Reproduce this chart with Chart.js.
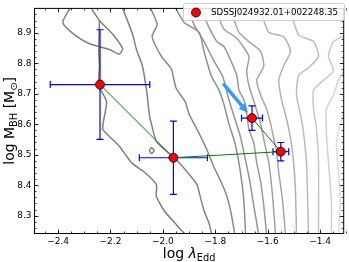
<!DOCTYPE html>
<html>
<head>
<meta charset="utf-8">
<script src="https://cdn.jsdelivr.net/npm/chart.js@4.4.1/dist/chart.umd.min.js"></script>
<style>
  html, body { margin: 0; padding: 0; background: #fff; }
  #wrap { width: 349px; height: 262px; }
</style>
</head>
<body>
<div id="wrap"><canvas id="chart" width="349" height="262"></canvas></div>
<script>
const sourceName = "SDSSJ024932.01+002248.35";

// the four epochs of the source
const logEdd = [-2.24, -1.96, -1.55, -1.66];
const logMbh = [8.73, 8.49, 8.51, 8.62];
const errEdd = [0.19, 0.13, 0.03, 0.04];
const errMbh = [0.18, 0.12, 0.03, 0.04];

const xTicks = [-2.4, -2.2, -2.0, -1.8, -1.6, -1.4];
const yTicks = [8.3, 8.4, 8.5, 8.6, 8.7, 8.8, 8.9];

const arrowFrom = [-1.770, 8.733];
const arrowTo = [-1.676, 8.638];

// background sample contours, outer (dark) to inner (light)
const contourTongue = [[-2.348, 8.99], [-2.382, 8.934], [-2.337, 8.893], [-2.280, 8.864], [-2.204, 8.845],
  [-2.166, 8.830], [-2.154, 8.848], [-2.192, 8.896], [-2.242, 8.940], [-2.280, 8.99]];
const contour1 = [[-2.242, 8.940], [-2.245, 8.839], [-2.242, 8.791], [-2.245, 8.728], [-2.215, 8.674],
  [-2.230, 8.585], [-2.204, 8.560], [-2.166, 8.528], [-2.120, 8.474], [-2.071, 8.443], [-2.025, 8.402],
  [-2.025, 8.364], [-1.995, 8.316], [-1.946, 8.268], [-1.911, 8.235]];
const contourBlob = [[-2.052, 8.514], [-2.044, 8.523], [-2.033, 8.514], [-2.044, 8.504], [-2.052, 8.514]];
const contour2 = [[-2.158, 8.99], [-2.116, 8.896], [-2.101, 8.845], [-2.078, 8.791], [-2.060, 8.696],
  [-2.052, 8.633], [-2.044, 8.601], [-2.025, 8.544], [-1.987, 8.512], [-1.946, 8.481], [-1.900, 8.436],
  [-1.870, 8.402], [-1.858, 8.364], [-1.843, 8.316], [-1.824, 8.275], [-1.813, 8.235]];
const contour3 = [[-2.052, 8.99], [-2.022, 8.928], [-2.041, 8.887], [-2.006, 8.823], [-1.968, 8.782],
  [-1.950, 8.719], [-1.915, 8.674], [-1.900, 8.633], [-1.862, 8.570], [-1.832, 8.516], [-1.805, 8.459],
  [-1.778, 8.411], [-1.756, 8.364], [-1.740, 8.310], [-1.725, 8.235]];
const contour4 = [[-1.957, 8.99], [-1.919, 8.934], [-1.862, 8.902], [-1.843, 8.839], [-1.816, 8.760],
  [-1.786, 8.712], [-1.767, 8.665], [-1.748, 8.601], [-1.725, 8.538], [-1.710, 8.474], [-1.699, 8.411],
  [-1.691, 8.348], [-1.684, 8.235]];
const contour4b = [[-1.908, 8.99], [-1.881, 8.926], [-1.843, 8.871], [-1.805, 8.807], [-1.771, 8.755],
  [-1.752, 8.692], [-1.729, 8.628], [-1.706, 8.565], [-1.687, 8.492], [-1.668, 8.411], [-1.653, 8.332],
  [-1.634, 8.235]];
const contour5 = [[-1.862, 8.99], [-1.824, 8.918], [-1.794, 8.871], [-1.767, 8.855], [-1.740, 8.807],
  [-1.718, 8.760], [-1.710, 8.712], [-1.691, 8.680], [-1.680, 8.633], [-1.672, 8.585], [-1.653, 8.538],
  [-1.642, 8.474], [-1.627, 8.411], [-1.615, 8.332], [-1.604, 8.235]];
const contour5b = [[-1.805, 8.99], [-1.767, 8.912], [-1.718, 8.882], [-1.672, 8.823], [-1.680, 8.776],
  [-1.672, 8.728], [-1.649, 8.665], [-1.627, 8.601], [-1.612, 8.538], [-1.596, 8.474], [-1.585, 8.396],
  [-1.577, 8.317], [-1.570, 8.235]];
const contour6 = [[-1.748, 8.99], [-1.710, 8.902], [-1.672, 8.871], [-1.627, 8.839], [-1.615, 8.791],
  [-1.642, 8.744], [-1.627, 8.696], [-1.604, 8.649], [-1.589, 8.601], [-1.577, 8.554], [-1.566, 8.506],
  [-1.558, 8.443], [-1.543, 8.348], [-1.532, 8.235]];
const contour7 = [[-1.634, 8.99], [-1.596, 8.902], [-1.539, 8.887], [-1.513, 8.839], [-1.539, 8.791],
  [-1.558, 8.744], [-1.547, 8.680], [-1.528, 8.617], [-1.513, 8.554], [-1.501, 8.474], [-1.494, 8.379],
  [-1.490, 8.235]];
const contour8 = [[-1.520, 8.99], [-1.482, 8.893], [-1.425, 8.871], [-1.406, 8.823], [-1.444, 8.785],
  [-1.482, 8.760], [-1.490, 8.696], [-1.475, 8.633], [-1.463, 8.570], [-1.452, 8.474], [-1.448, 8.364],
  [-1.444, 8.235]];
const contour9 = [[-1.30, 8.893], [-1.349, 8.871], [-1.368, 8.823], [-1.349, 8.776], [-1.387, 8.744],
  [-1.425, 8.712], [-1.425, 8.649], [-1.414, 8.585], [-1.406, 8.474], [-1.406, 8.235]];
const contour10 = [[-1.30, 8.791], [-1.330, 8.744], [-1.349, 8.696], [-1.376, 8.649], [-1.376, 8.570],
  [-1.368, 8.474], [-1.357, 8.348], [-1.357, 8.235]];
const contour11 = [[-1.30, 8.680], [-1.323, 8.601], [-1.338, 8.538], [-1.330, 8.443], [-1.323, 8.348],
  [-1.330, 8.235]];

const contourLines = [contourTongue, contour1, contourBlob, contour2, contour3, contour4, contour4b,
  contour5, contour5b, contour6, contour7, contour8, contour9, contour10, contour11];
const contourColors = ["#7f7f7f", "#7f7f7f", "#7f7f7f", "#828282", "#888888", "#8f8f8f", "#949494",
  "#9a9a9a", "#a0a0a0", "#a7a7a7", "#b1b1b1", "#bcbcbc", "#c7c7c7", "#d2d2d2", "#dddddd"];

const fmt = (v) => v.toFixed(1).replace("-", "\u2212");

const toXY = (pts) => pts.map(([x, y]) => ({ x, y }));

const drawRich = (ctx, parts, x, y) => {
  let total = 0;
  parts.forEach((p) => {
    ctx.font = `${p.italic ? "italic " : ""}${p.size}px "DejaVu Sans"`;
    p.w = ctx.measureText(p.t).width;
    total += p.w;
  });
  let cx = x - total / 2;
  ctx.textAlign = "left";
  ctx.textBaseline = "alphabetic";
  parts.forEach((p) => {
    ctx.font = `${p.italic ? "italic " : ""}${p.size}px "DejaVu Sans"`;
    ctx.fillText(p.t, cx, y + (p.dy || 0));
    cx += p.w;
  });
};

const errorBars = {
  id: "errorBars",
  beforeDatasetDraw(chart, args) {
    if (args.index !== 0) return;
    const { ctx, scales } = chart;
    const x = scales.x, y = scales.y;

    // arrow pointing at the latest epoch
    const x0 = x.getPixelForValue(arrowFrom[0]), y0 = y.getPixelForValue(arrowFrom[1]);
    const x1 = x.getPixelForValue(arrowTo[0]), y1 = y.getPixelForValue(arrowTo[1]);
    const ang = Math.atan2(y1 - y0, x1 - x0);
    const hl = 9, hw = 4.5;
    const bx = x1 - hl * Math.cos(ang), by = y1 - hl * Math.sin(ang);
    ctx.save();
    ctx.strokeStyle = "#3399ff";
    ctx.fillStyle = "#3399ff";
    ctx.lineWidth = 3.5;
    ctx.beginPath();
    ctx.moveTo(x0, y0);
    ctx.lineTo(bx, by);
    ctx.stroke();
    ctx.beginPath();
    ctx.moveTo(x1, y1);
    ctx.lineTo(bx + hw * Math.sin(ang), by - hw * Math.cos(ang));
    ctx.lineTo(bx - hw * Math.sin(ang), by + hw * Math.cos(ang));
    ctx.closePath();
    ctx.fill();
    ctx.restore();

    ctx.save();
    ctx.strokeStyle = "#0000ff";
    ctx.lineWidth = 1.2;
    const cap = 3.5;
    logEdd.forEach((ex, i) => {
      const px = x.getPixelForValue(ex), py = y.getPixelForValue(logMbh[i]);
      const xl = x.getPixelForValue(ex - errEdd[i]), xr = x.getPixelForValue(ex + errEdd[i]);
      const yt = y.getPixelForValue(logMbh[i] + errMbh[i]), yb = y.getPixelForValue(logMbh[i] - errMbh[i]);
      ctx.beginPath();
      ctx.moveTo(xl, py); ctx.lineTo(xr, py);
      ctx.moveTo(xl, py - cap); ctx.lineTo(xl, py + cap);
      ctx.moveTo(xr, py - cap); ctx.lineTo(xr, py + cap);
      ctx.moveTo(px, yt); ctx.lineTo(px, yb);
      ctx.moveTo(px - cap, yt); ctx.lineTo(px + cap, yt);
      ctx.moveTo(px - cap, yb); ctx.lineTo(px + cap, yb);
      ctx.stroke();
    });
    ctx.restore();
  },
};

const frame = {
  id: "frame",
  afterDraw(chart) {
    const { ctx, chartArea: a, scales } = chart;
    ctx.save();
    ctx.strokeStyle = "#000";
    ctx.lineWidth = 1;
    ctx.strokeRect(a.left, a.top, a.right - a.left, a.bottom - a.top);

    const xMinor = [], yMinor = [];
    for (let v = -2.45; v < -1.3; v += 0.05) xMinor.push(v);
    for (let v = 8.26; v < 8.98; v += 0.02) yMinor.push(v);

    ctx.lineWidth = 0.8;
    ctx.beginPath();
    const tickX = (v, len) => {
      const p = Math.round(scales.x.getPixelForValue(v)) + 0.5;
      ctx.moveTo(p, a.bottom); ctx.lineTo(p, a.bottom - len);
      ctx.moveTo(p, a.top); ctx.lineTo(p, a.top + len);
    };
    const tickY = (v, len) => {
      const p = Math.round(scales.y.getPixelForValue(v)) + 0.5;
      ctx.moveTo(a.left, p); ctx.lineTo(a.left + len, p);
      ctx.moveTo(a.right, p); ctx.lineTo(a.right - len, p);
    };
    xMinor.forEach((v) => tickX(v, 2));
    yMinor.forEach((v) => tickY(v, 2));
    xTicks.forEach((v) => tickX(v, 4));
    yTicks.forEach((v) => tickY(v, 4));
    ctx.stroke();

    // legend
    const lx = 183.5, ly = 3.5, lw = 161, lh = 17;
    ctx.fillStyle = "rgba(255,255,255,0.85)";
    ctx.strokeStyle = "#cccccc";
    ctx.lineWidth = 1;
    ctx.beginPath();
    ctx.roundRect(lx, ly, lw, lh, 2);
    ctx.fill();
    ctx.stroke();
    ctx.beginPath();
    ctx.arc(196, 12.5, 4.5, 0, Math.PI * 2);
    ctx.fillStyle = "#ff0000";
    ctx.fill();
    ctx.lineWidth = 0.8;
    ctx.strokeStyle = "#000";
    ctx.stroke();
    ctx.fillStyle = "#000";
    ctx.font = '8.7px "DejaVu Sans"';
    ctx.textAlign = "left";
    ctx.textBaseline = "middle";
    ctx.fillText(sourceName, 211, 12.8);

    // axis titles
    ctx.fillStyle = "#000";
    const midX = (a.left + a.right) / 2;
    drawRich(ctx, [
      { t: "log ", size: 14 },
      { t: "\u03bb", size: 14, italic: true },
      { t: "Edd", size: 9.8, dy: 3 },
    ], midX, 258);

    ctx.translate(13.5, (a.top + a.bottom) / 2);
    ctx.rotate(-Math.PI / 2);
    drawRich(ctx, [
      { t: "log M", size: 14 },
      { t: "BH", size: 9.8, dy: 3 },
      { t: " [M", size: 14 },
      { t: "\u2299", size: 9.8, dy: 3 },
      { t: "]", size: 14 },
    ], 0, 0);
    ctx.restore();
  },
};

const datasets = [
  {
    label: sourceName,
    data: logEdd.map((x, i) => ({ x, y: logMbh[i] })),
    showLine: true,
    borderColor: "#008000",
    borderWidth: 1,
    pointRadius: 4.5,
    pointBackgroundColor: "#ff0000",
    pointBorderColor: "#000000",
    pointBorderWidth: 0.8,
    order: 0,
  },
  ...contourLines.map((pts, i) => ({
    label: "contour" + i,
    data: toXY(pts),
    showLine: true,
    borderColor: contourColors[i],
    borderWidth: 1.5,
    pointRadius: 0,
    tension: 0.2,
    order: 1,
  })),
];

const tickFont = { family: "DejaVu Sans", size: 9 };

new Chart("chart", {
  type: "scatter",
  data: { datasets },
  options: {
    responsive: false,
    animation: false,
    events: [],
    layout: { padding: { top: 0.5, right: 3.5, left: 0, bottom: 0 } },
    plugins: {
      legend: { display: false },
      tooltip: { enabled: false },
    },
    scales: {
      x: {
        type: "linear",
        min: -2.49,
        max: -1.31,
        grid: { display: false, drawTicks: false },
        border: { display: false },
        afterBuildTicks: (s) => { s.ticks = xTicks.map((v) => ({ value: v })); },
        afterFit: (s) => { s.height = 28.5; },
        ticks: { font: tickFont, color: "#000", padding: 3, maxRotation: 0, autoSkip: false, callback: (v) => fmt(v) },
      },
      y: {
        type: "linear",
        min: 8.2414,
        max: 8.98,
        grid: { display: false, drawTicks: false },
        border: { display: false },
        afterBuildTicks: (s) => { s.ticks = yTicks.map((v) => ({ value: v })); },
        afterFit: (s) => { s.width = 34.5; },
        ticks: { font: tickFont, color: "#000", padding: 3, autoSkip: false, callback: (v) => fmt(v) },
      },
    },
  },
  plugins: [errorBars, frame],
});
</script>
</body>
</html>
